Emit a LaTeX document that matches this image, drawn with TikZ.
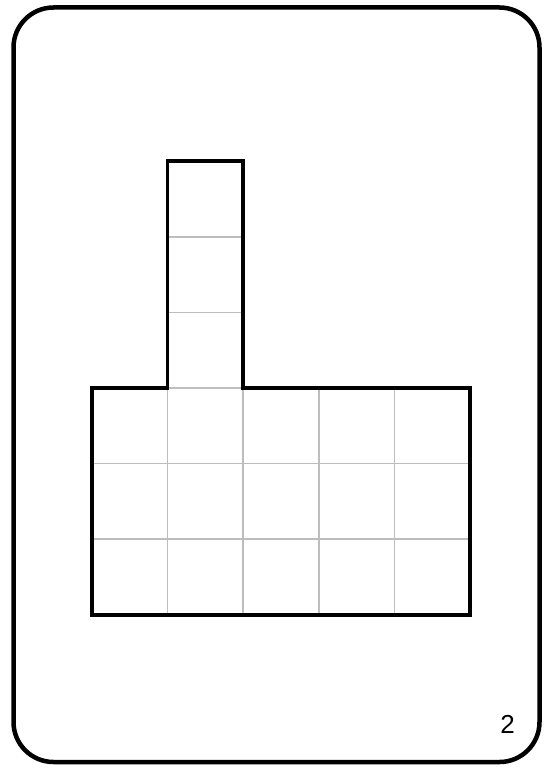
\documentclass[tikz,border=0pt]{standalone}
\usepackage{fontspec}
\setmainfont{Liberation Sans}
\usepackage{tikz}
\definecolor{CGrid}{HTML}{BDBDBD}

\begin{document}
\begin{tikzpicture}[
  x=1pt,y=-1pt,
  every node/.style={font=\fontsize{26}{30}\selectfont},
  card/.style={line width=4.5pt,rounded corners=40pt},
  gridline/.style={draw=CGrid,line width=1.5pt},
  outline/.style={line width=3.5pt,line join=miter}
]
  \useasboundingbox (0,0) rectangle (546,768);
  \draw[card] (13.5,7.5) rectangle (539.5,762);
  % cells of the base and the column
  \foreach \c in {0,...,4} \foreach \r in {0,1,2}
    {\draw[gridline] (92+\c*75.6,388+\r*75.6) rectangle ++(75.6,75.6);}
  \foreach \r in {1,2,3}
    {\draw[gridline] (167.6,388-\r*75.6) rectangle ++(75.6,75.6);}
  \draw[outline] (92,388) -- (167.6,388) -- (167.6,161.2) -- (243.2,161.2)
    -- (243.2,388) -- (470,388) -- (470,614.8) -- (92,614.8) -- cycle;
  \node (cardnum) at (507.5,724) {2};
\end{tikzpicture}
\end{document}
